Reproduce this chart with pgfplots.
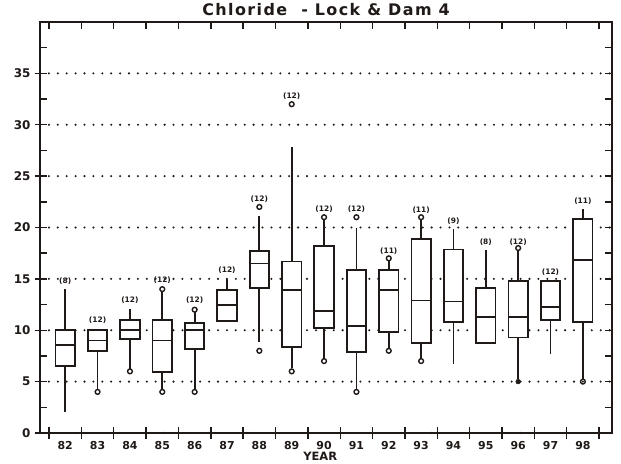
\documentclass[border=0pt]{standalone}
\usepackage{pgfplots}
\usepackage{pgfplotstable}
\pgfplotsset{compat=1.18}
\usepackage{fontspec}
\setmainfont{DejaVu Sans}
\definecolor{ink}{rgb}{0.12,0.10,0.09}
\pgfplotstableread{
x lw lq med uq uw
82 2.0 6.5 8.55 10.0 14.0
83 4.25 7.95 9.0 10.0 10.0
84 6.25 9.15 10.0 11.0 12.1
85 4.25 5.9 9.0 11.0 13.75
86 4.25 8.2 10.0 10.7 11.75
87 10.9 10.9 12.45 13.9 15.0
88 8.9 14.1 16.5 17.7 21.1
89 6.3 8.4 13.9 16.7 27.8
90 7.25 10.2 11.9 18.2 20.75
91 4.25 7.85 10.4 15.9 20.0
92 8.25 9.8 13.9 15.9 16.75
93 7.25 8.75 12.9 18.9 20.75
94 6.7 10.8 12.8 17.85 19.9
95 8.75 8.75 11.3 14.1 17.85
96 5.3 9.3 11.3 14.8 17.75
97 7.7 11.0 12.3 14.8 14.8
98 5.25 10.8 16.8 20.85 21.8
}\boxdata
\pgfplotstableread{
x y
83 4
84 6
85 14
85 4
86 12
86 4
88 22
88 8
89 32
89 6
90 21
90 7
91 21
91 4
92 17
92 8
93 21
93 7
96 18
98 5
}\outliers
\pgfplotstableread{
x y lab
82 14.8 (8)
83 10.95 (12)
84 12.9 (12)
85 14.85 (12)
86 12.9 (12)
87 15.8 (12)
88 22.8 (12)
89 32.8 (12)
90 21.75 (12)
91 21.75 (12)
92 17.65 (11)
93 21.65 (11)
94 20.6 (9)
95 18.6 (8)
96 18.6 (12)
97 15.7 (12)
98 22.55 (11)
}\counts
\begin{document}
\begin{tikzpicture}
\pgfplotsset{
  base/.style={width=572bp, height=411bp, scale only axis,
    xmin=81.22, xmax=98.9, ymin=0, ymax=40,
    axis line style={ink, line width=1.6bp},
    every tick/.style={ink, line width=1.4bp}},
}
% main axis: grid, tick labels, title, whiskers
\begin{axis}[base,
  /pgf/number format/assume math mode=true,
  xtick={82,83,...,98}, xtick style={draw=none},
  xticklabel style={font=\bfseries\fontsize{11}{12}\selectfont, ink, inner sep=2bp, yshift=-1bp},
  ytick={0,5,...,35}, ytick pos=left, tick align=center, major tick length=10bp,
  yticklabel style={font=\bfseries\fontsize{12}{13}\selectfont, ink, xshift=-1bp},
  ymajorgrids, major grid style={ink, line width=2.3bp, dash pattern=on 0bp off 8.9bp, line cap=round},
  title={Chloride\ \ - Lock \& Dam 4},
  title style={font=\bfseries\fontsize{16}{18}\selectfont\addfontfeatures{LetterSpace=9}, ink, at={(0.5,1)}, anchor=south, yshift=-3bp},
  xlabel={YEAR},
  xlabel style={font=\bfseries\fontsize{11.5}{12}\selectfont, ink, inner sep=0.5bp, at={(axis description cs:0.49,0)}, anchor=north, yshift=-18bp},
  clip=false,
]
\addplot[only marks, mark=none, mark size=0pt, error bars/.cd, y dir=both, y explicit, error mark=none,
  error bar style={ink, line width=1.8bp}]
  table[x=x, y=lq, y error plus expr=\thisrow{uw}-\thisrow{lq}, y error minus expr=\thisrow{lq}-\thisrow{lw}] {\boxdata};
\end{axis}
% boxes (floating stacked bars)
\begin{axis}[base, hide axis, ybar stacked, bar width=0.6]
\addplot[draw=none, fill=none] table[x=x, y=lq] {\boxdata};
\addplot[draw=ink, fill=white, line width=1.8bp] table[x=x, y expr=\thisrow{uq}-\thisrow{lq}] {\boxdata};
\end{axis}
% medians, outliers, counts, bottom ticks
\begin{axis}[base, xtick={81.5,82.5,...,98.5}, xticklabels={}, xtick pos=bottom,
  ytick=\empty, tick align=center, major tick length=12bp, clip=false]
\addplot[only marks, mark=none, mark size=0pt, error bars/.cd, x dir=both, x fixed=0.3, error mark=none,
  error bar style={ink, line width=1.8bp}]
  table[x=x, y=med] {\boxdata};
\addplot[only marks, ink, mark=o, mark size=2.4bp, mark options={line width=1.4bp, fill=white}]
  table[x=x, y=y] {\outliers};
\addplot[only marks, ink, mark=*, mark size=2.4bp] coordinates {(96,5)};
\addplot[only marks, mark=none, nodes near coords, point meta=explicit symbolic,
  nodes near coords align={anchor=center},
  every node near coord/.append style={font=\bfseries\fontsize{7.5}{8}\selectfont, ink, inner sep=0pt}]
  table[x=x, y=y, meta=lab] {\counts};
\end{axis}
% top and right inward ticks
\begin{axis}[base, xtick={81.5,82.5,...,98.5}, xticklabels={}, xtick pos=top,
  ytick={0,2.5,...,37.5}, yticklabels={}, ytick pos=both, tick align=inside, major tick length=7bp]
\end{axis}
\path (current axis.south west) ++(-40bp,-31bp) coordinate (bl);
\path (current axis.north east) ++(9bp,22bp) coordinate (tr);
\pgfresetboundingbox
\path[use as bounding box] (bl) rectangle (tr);
\end{tikzpicture}
\end{document}
